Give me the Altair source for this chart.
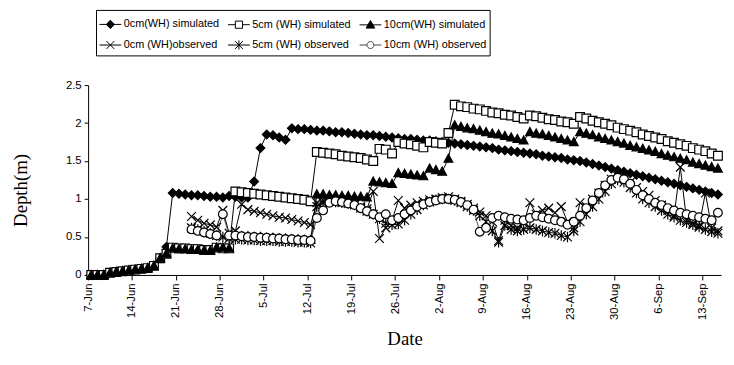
import json
import altair as alt
import pandas as pd

# ---------------- data ----------------
tick_labels = ["7-Jun", "14-Jun", "21-Jun", "28-Jun", "5-Jul", "12-Jul", "19-Jul",
               "26-Jul", "2-Aug", "9-Aug", "16-Aug", "23-Aug", "30-Aug", "6-Sep", "13-Sep"]

series_names = ["0cm(WH) simulated", "5cm (WH) simulated", "10cm(WH) simulated",
                "0cm (WH)observed", "5cm (WH) observed", "10cm (WH) observed"]

# daily values, day 0 = 7-Jun
sim_0cm = [0, 0, 0, 0.03, 0.04, 0.05, 0.06, 0.07, 0.08, 0.09, 0.12, 0.22, 0.37,
           1.08, 1.07, 1.06, 1.05, 1.05, 1.04, 1.03, 1.03, 1.02, 1.04, 1.03, 1.02, 1.02,
           1.23, 1.67, 1.85, 1.84, 1.81, 1.78,
           1.93, 1.92, 1.92, 1.91, 1.90, 1.90, 1.89, 1.88, 1.88, 1.87, 1.86, 1.85, 1.84,
           1.84, 1.83, 1.82, 1.81, 1.80, 1.79, 1.79, 1.78, 1.77, 1.77, 1.76, 1.75, 1.74, 1.73,
           1.72, 1.71, 1.70, 1.69, 1.68, 1.67, 1.65, 1.64, 1.63, 1.62, 1.61, 1.60, 1.59,
           1.57, 1.56, 1.55, 1.54, 1.52, 1.51, 1.50, 1.48, 1.46,
           1.44, 1.42, 1.40, 1.38, 1.36, 1.34, 1.32, 1.30, 1.28, 1.26, 1.24, 1.22, 1.20,
           1.18, 1.16, 1.14, 1.12, 1.10, 1.08, 1.06]

sim_5cm = [0, 0, 0, 0.03, 0.04, 0.05, 0.06, 0.07, 0.08, 0.09, 0.12, 0.22, 0.28,
           0.36, 0.35, 0.35, 0.34, 0.34, 0.33, 0.33, 0.36, 0.35, 0.35,
           1.10, 1.09, 1.08, 1.07, 1.06, 1.05, 1.04, 1.03, 1.02, 1.01, 1.00, 0.99, 0.97,
           1.62, 1.61, 1.60, 1.59, 1.57, 1.56, 1.55, 1.54, 1.52, 1.50,
           1.66, 1.65, 1.60,
           1.75, 1.73, 1.72, 1.70, 1.68,
           1.75, 1.74, 1.73,
           1.87,
           2.24, 2.22, 2.21, 2.19, 2.18, 2.16, 2.14, 2.13, 2.11, 2.10, 2.08, 2.06,
           2.10, 2.09, 2.07, 2.05, 2.04, 2.02, 2.01, 1.99,
           2.08, 2.06, 2.03, 2.01, 1.99, 1.97, 1.94, 1.92, 1.90, 1.88, 1.85, 1.83, 1.81,
           1.79, 1.76, 1.74, 1.72, 1.70, 1.67, 1.65, 1.63, 1.60, 1.57]

sim_10cm = [0, 0, 0, 0.03, 0.04, 0.05, 0.06, 0.07, 0.08, 0.09, 0.12, 0.22, 0.28,
            0.35, 0.34, 0.34, 0.33, 0.33, 0.32, 0.32, 0.36, 0.36, 0.35,
            0.52, 0.51, 0.51, 0.50, 0.50, 0.49, 0.49, 0.48, 0.48, 0.47, 0.47, 0.46, 0.46,
            1.06, 1.06, 1.05, 1.05, 1.04, 1.04, 1.03, 1.03, 1.02,
            1.23, 1.22, 1.21, 1.20,
            1.34, 1.33, 1.32, 1.31, 1.30,
            1.40, 1.38, 1.36,
            1.53,
            1.97, 1.95, 1.93, 1.92, 1.90, 1.88, 1.86, 1.85, 1.83, 1.81, 1.79, 1.77,
            1.88, 1.86, 1.85, 1.83, 1.81, 1.79, 1.77, 1.75,
            1.88, 1.86, 1.84, 1.81, 1.79, 1.77, 1.75, 1.73, 1.70, 1.68, 1.66, 1.64, 1.62,
            1.59, 1.57, 1.55, 1.53, 1.51, 1.48, 1.46, 1.44, 1.42, 1.40]

obs_start_day = 16  # observations begin 23-Jun

obs_0cm = [0.77, 0.72, 0.68, 0.66, 0.63, 0.85, 0.55, 0.58, 0.93, 0.86, 0.84, 0.82, 0.80,
           0.78, 0.76, 0.75, 0.73, 0.71, 0.69, 0.66,
           0.95, 0.98, 1.00, 0.99, 0.98, 0.96, 0.94, 0.90, 0.87, 1.10, 0.48, 0.62, 0.72,
           0.98, 0.88, 0.92, 0.95, 0.97, 0.99, 1.00, 1.02, 1.03, 1.00,
           0.97, 0.93, 0.88, 0.83, 0.78, 0.70, 0.45, 0.72, 0.65, 0.62, 0.68,
           0.95, 0.80, 0.85, 0.88, 0.82, 0.90, 0.70, 0.62, 0.95, 0.90, 1.00,
           1.08, 1.18, 1.26, 1.30, 1.28, 1.22, 1.15, 1.10, 1.05, 0.98,
           0.92, 0.85, 0.78, 1.42, 0.72, 0.68, 0.65, 1.08, 0.62, 0.58]

obs_5cm = [0.62, 0.60, 0.58, 0.55, 0.52, 0.50, 0.48, 0.47, 0.47, 0.46, 0.46, 0.45, 0.45,
           0.45, 0.44, 0.44, 0.44, 0.43, 0.43, 0.42,
           0.90, 0.95, 0.97, 0.96, 0.95, 0.94, 0.92, 0.88, 0.84, 0.80, 0.74, 0.68, 0.66,
           0.67, 0.72, 0.80, 0.86, 0.92, 0.96, 0.99, 1.00, 1.00, 0.98,
           0.95, 0.90, 0.85, 0.78, 0.70, 0.58, 0.43, 0.65, 0.60, 0.58, 0.60,
           0.62, 0.60, 0.58, 0.56, 0.55, 0.52, 0.50, 0.58, 0.70, 0.80, 0.90,
           1.00, 1.10, 1.20, 1.25, 1.22, 1.15, 1.08, 1.00, 0.95, 0.90,
           0.85, 0.80, 0.76, 0.72, 0.69, 0.66, 0.63, 0.60, 0.57, 0.55]

obs_10cm = [0.60, 0.58, 0.56, 0.54, 0.52, 0.80, 0.52, 0.52, 0.51, 0.50, 0.50, 0.49, 0.49,
            0.48, 0.48, 0.47, 0.47, 0.46, 0.46, 0.45,
            0.75, 0.85, 0.95, 0.97, 0.96, 0.94, 0.92, 0.88, 0.84, 0.80, 0.76, 0.80, 0.72,
            0.75, 0.80, 0.85, 0.90, 0.93, 0.96, 0.98, 1.00, 1.00, 0.99,
            0.96, 0.92, 0.86, 0.57, 0.62, 0.75, 0.78, 0.76, 0.74, 0.73, 0.72,
            0.75, 0.78, 0.76, 0.74, 0.72, 0.70, 0.66, 0.70, 0.78, 0.88, 0.98,
            1.08, 1.18, 1.25, 1.28, 1.26, 1.20, 1.12, 1.05, 1.00, 0.95,
            0.92, 0.88, 0.85, 0.82, 0.80, 0.78, 0.76, 0.74, 0.72, 0.82]

all_series = [(sim_0cm, 0), (sim_5cm, 0), (sim_10cm, 0),
              (obs_0cm, obs_start_day), (obs_5cm, obs_start_day), (obs_10cm, obs_start_day)]

rows = []
for name, (vals, start) in zip(series_names, all_series):
    for i, v in enumerate(vals):
        rows.append({"series": name, "day": start + i, "depth": v})
df = pd.DataFrame(rows)

legend_df = pd.DataFrame({"series": series_names, "day": [0] * 6, "depth": [0] * 6})

# ---------------- styles ----------------
point_paths = [
    "M0,-1L1,0L0,1L-1,0Z",
    "M-1,-1H1V1H-1Z",
    "M0,-1.05L1,0.8H-1Z",
    "M-1,-1L1,1M-1,1L1,-1",
    "M-1,-1L1,1M-1,1L1,-1M0,-1.2V1.2",
    "M1,0A1,1 0 1,1 -1,0A1,1 0 1,1 1,0Z",
]
# legend symbols: unit = 11px (symbolSize 484)
legend_paths = [
    "M-1,0H1M0,-0.38L0.38,0L0,0.38L-0.38,0Z",
    "M-1,0H-0.33M0.33,0H1M-0.33,-0.33H0.33V0.33H-0.33Z",
    "M-1,0H1M0,-0.4L0.4,0.3H-0.4Z",
    "M-1,0H1M-0.36,-0.36L0.36,0.36M-0.36,0.36L0.36,-0.36",
    "M-1,0H1M-0.36,-0.36L0.36,0.36M-0.36,0.36L0.36,-0.36M0,-0.42V0.42",
    "M-1,0H-0.32M0.32,0H1M0.32,0A0.32,0.32 0 1,1 -0.32,0A0.32,0.32 0 1,1 0.32,0Z",
]
fills = ["black", "white", "black", "transparent", "transparent", "white"]
line_colors = ["black", "black", "black", "black", "black", "#555555"]
legend_strokes = ["black", "black", "black", "black", "black", "#444444"]

label_expr = json.dumps(tick_labels) + "[round(datum.value / 7)]"
tick_values = [7 * i for i in range(len(tick_labels))]

x_enc = alt.X("pos:Q",
              scale=alt.Scale(domain=[0, 101], nice=False, zero=False),
              axis=alt.Axis(values=tick_values, labelExpr=label_expr, labelAngle=-90,
                            title="Date", titlePadding=10, tickSize=5, labelPadding=3))
y_enc = alt.Y("depth:Q",
              scale=alt.Scale(domain=[0, 2.5], nice=False),
              axis=alt.Axis(values=[0, 0.5, 1, 1.5, 2, 2.5], format="~g",
                            title="Depth(m)", titleX=-58, titleY=106,
                            tickSize=4, labelPadding=3))

base = alt.Chart(df).transform_calculate(pos="datum.day + 0.5")

lines = base.mark_line(strokeWidth=1).encode(
    x=x_enc, y=y_enc, detail="series:N",
    stroke=alt.Stroke("series:N", scale=alt.Scale(domain=series_names, range=line_colors),
                      legend=None),
)

points = base.mark_point(size=78, strokeWidth=1.2, opacity=1).encode(
    x=x_enc, y=y_enc,
    shape=alt.Shape("series:N", scale=alt.Scale(domain=series_names, range=point_paths),
                    legend=None),
    fill=alt.Fill("series:N", scale=alt.Scale(domain=series_names, range=fills), legend=None),
    stroke=alt.value("black"),
)

leg = alt.Legend(orient="none", legendX=8, legendY=-76, columns=3, direction="horizontal",
                 title=None, strokeColor="black", fillColor="white", padding=3,
                 cornerRadius=0, labelFont="Liberation Sans", labelFontSize=11,
                 labelColor="black", symbolSize=484, symbolStrokeWidth=1,
                 symbolOpacity=1, columnPadding=6, rowPadding=3, labelOffset=2,
                 labelLimit=300)

legend_layer = alt.Chart(legend_df).transform_calculate(pos="datum.day + 0.5").mark_point(
    size=484, opacity=0, strokeWidth=1).encode(
    x=x_enc, y=y_enc,
    shape=alt.Shape("series:N", scale=alt.Scale(domain=series_names, range=legend_paths),
                    legend=leg),
    fill=alt.Fill("series:N", scale=alt.Scale(domain=series_names, range=fills), legend=leg),
    stroke=alt.Stroke("series:N", scale=alt.Scale(domain=series_names, range=legend_strokes),
                      legend=leg),
)

chart = alt.layer(lines, points, legend_layer).resolve_scale(
    shape="independent", fill="independent", stroke="independent"
).properties(
    width=640, height=192,
    autosize=alt.AutoSizeParams(type="none"),
    padding={"left": 81, "top": 76, "right": 5, "bottom": 80},
).configure_view(stroke=None).configure_axis(
    grid=False, domainColor="black", tickColor="black", labelColor="black",
    labelFont="Liberation Sans", labelFontSize=11.5,
    titleFont="Liberation Serif", titleFontSize=19, titleFontWeight="normal",
    titleColor="black",
)

chart.save("out.html", embed_options={"renderer": "svg", "actions": False})
